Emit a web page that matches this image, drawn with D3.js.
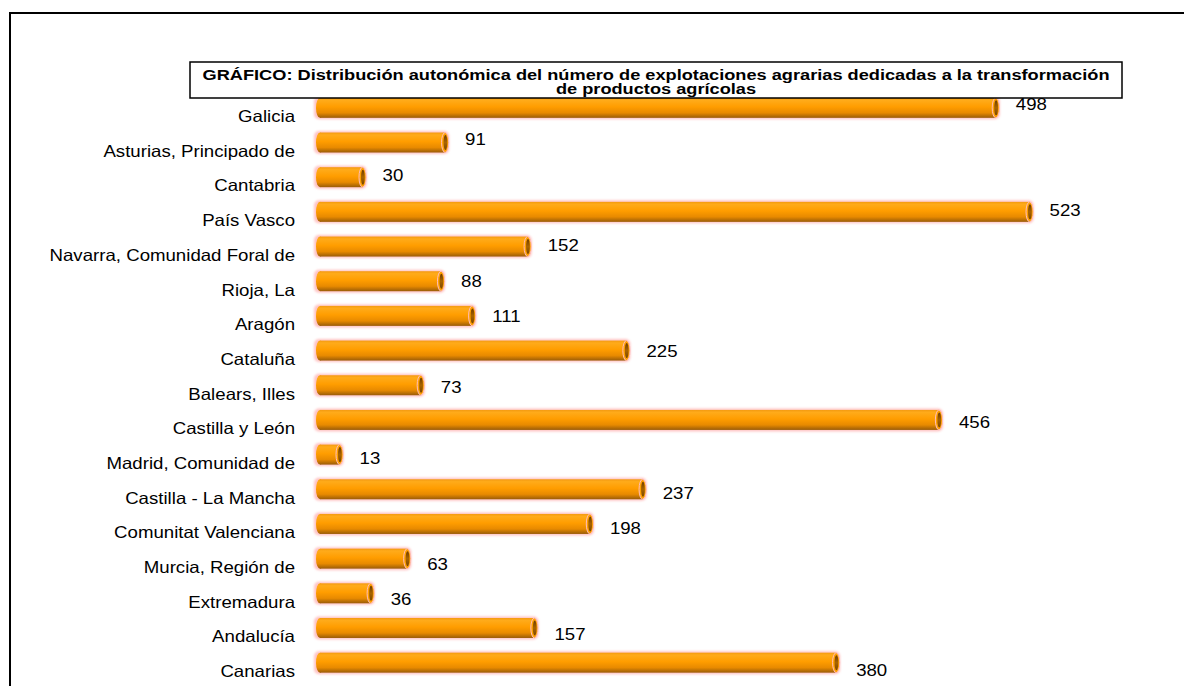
<!DOCTYPE html>
<html><head><meta charset="utf-8">
<script src="https://cdn.jsdelivr.net/npm/d3@7"></script>
<style>
html,body{margin:0;padding:0;background:#fff;}
svg{display:block;font-family:"Liberation Sans",Arial,sans-serif;}
</style></head>
<body>
<svg id="chart" width="1184" height="686"></svg>
<script>
const categories = ["Galicia","Asturias, Principado de","Cantabria","País Vasco","Navarra, Comunidad Foral de","Rioja, La","Aragón","Cataluña","Balears, Illes","Castilla y León","Madrid, Comunidad de","Castilla - La Mancha","Comunitat Valenciana","Murcia, Región de","Extremadura","Andalucía","Canarias"];
const values = [498,91,30,523,152,88,111,225,73,456,13,237,198,63,36,157,380];
const titleLines = ["GRÁFICO: Distribución autonómica del número de explotaciones agrarias dedicadas a la transformación","de productos agrícolas"];

const svg = d3.select("#chart");
const defs = svg.append("defs");
const SX = 1.13;   // slight horizontal stretch of the text in the original picture
const FS = 16.5;

const g1 = defs.append("linearGradient").attr("id","body").attr("x1",0).attr("y1",0).attr("x2",0).attr("y2",1);
[[0,"#f39a10"],[0.12,"#ffab1a"],[0.45,"#ff9d00"],[0.75,"#e88a00"],[1,"#9a5c08"]].forEach(s=>g1.append("stop").attr("offset",s[0]).attr("stop-color",s[1]));
const g2 = defs.append("linearGradient").attr("id","inner").attr("x1",0).attr("y1",0).attr("x2",0).attr("y2",1);
[[0,"#6e3c00"],[0.5,"#a96400"],[1,"#7a4500"]].forEach(s=>g2.append("stop").attr("offset",s[0]).attr("stop-color",s[1]));
const blur = defs.append("filter").attr("id","glow").attr("x","-10%").attr("y","-50%").attr("width","120%").attr("height","200%");
blur.append("feGaussianBlur").attr("stdDeviation",0.8);

// outer frame
svg.append("rect").attr("x",10).attr("y",13).attr("width",1300).attr("height",800)
  .attr("fill","none").attr("stroke","#000").attr("stroke-width",2);

const x = d3.scaleLinear().domain([0,600]).range([322, 322+1.353*600]);
const y = d3.scaleBand().domain(categories).range([90.5, 680]).paddingInner(0.42).paddingOuter(0.21);
const yLab = d3.scalePoint().domain(categories).range([104, 670]);
const bh = 20;

// category axis (no line, no ticks)
const yAxis = d3.axisLeft(y).tickSize(0).tickPadding(0);
const ag = svg.append("g").attr("transform","translate(295,9)").call(yAxis);
ag.select(".domain").remove();
ag.selectAll("text").attr("font-size",FS).attr("fill","#000")
  .attr("font-family","Liberation Sans, Arial, sans-serif")
  .attr("transform",`scale(${SX},1)`);

const bars = svg.append("g").selectAll("g").data(values).join("g")
  .attr("transform",(d,i)=>`translate(0,${y(categories[i]) + y.bandwidth()/2})`);

bars.append("rect").attr("x",x(0)-8).attr("y",-bh/2-1.5).attr("width",d=>x(d)-x(0)+12).attr("height",bh+3)
  .attr("rx",5).attr("fill","#ffc4c4").attr("filter","url(#glow)");
bars.append("ellipse").attr("cx",x(0)-2).attr("cy",0).attr("rx",4).attr("ry",bh/2).attr("fill","url(#body)");
bars.append("rect").attr("x",x(0)-2).attr("y",-bh/2).attr("width",d=>x(d)-x(0)+2).attr("height",bh).attr("fill","url(#body)");
bars.append("ellipse").attr("cx",d=>x(d)).attr("cy",0).attr("rx",3.6).attr("ry",bh/2).attr("fill","#ffa000").attr("stroke","#ffbdbd").attr("stroke-width",1);
bars.append("ellipse").attr("cx",d=>x(d)+0.3).attr("cy",0).attr("rx",1.9).attr("ry",bh/2-2.5).attr("fill","url(#inner)");

// title box
svg.append("rect").attr("x",190).attr("y",62).attr("width",932).attr("height",36)
  .attr("fill","#fff").attr("stroke","#000").attr("stroke-width",1.5);
svg.append("g").selectAll("text").data(titleLines).join("text")
  .attr("transform",(d,i)=>`translate(656,${79.5+i*14.5}) scale(1.31,1)`)
  .attr("text-anchor","middle")
  .attr("font-size",13.9).attr("font-weight","bold").attr("fill","#000").text(d=>d);

// value labels
svg.append("g").selectAll("text").data(values).join("text")
  .attr("transform",(d,i)=>`translate(${x(d)+20},${yLab(categories[i])}) scale(${SX},1)`)
  .attr("dy","0.35em").attr("font-size",FS).attr("fill","#000").text(d=>d);
</script>
</body></html>
